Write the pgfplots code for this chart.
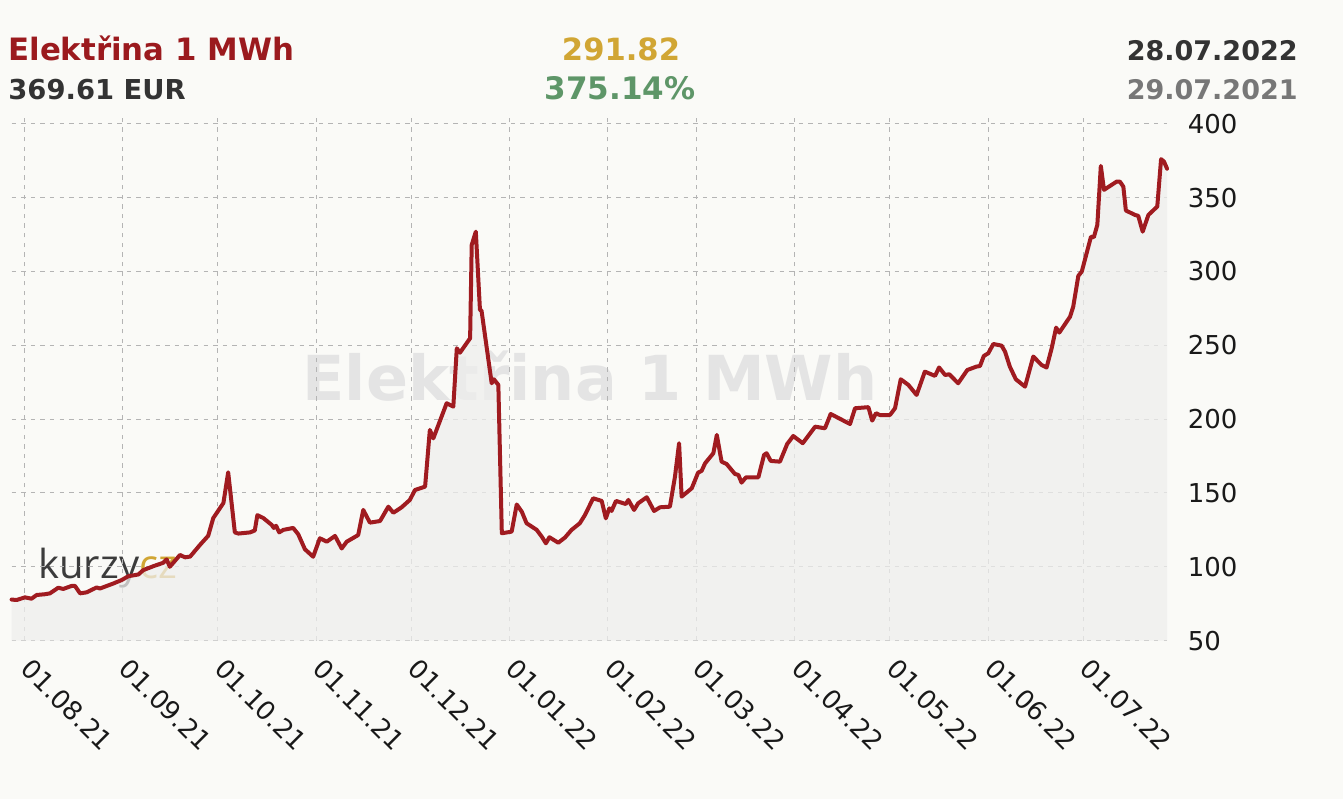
\documentclass[border=0pt]{standalone}
\usepackage{pgfplots}
\pgfplotsset{compat=1.18}
\usepackage{pgfplotstable}
\usepackage{fontspec}
\setmainfont{DejaVu Sans}
\newfontfamily\logofont{Open Sans}
\definecolor{bg}{RGB}{250,250,247}
\definecolor{linered}{RGB}{160,27,32}
\definecolor{titlered}{RGB}{155,26,30}
\definecolor{goldc}{RGB}{209,166,52}
\definecolor{pctgreen}{RGB}{94,150,104}
\definecolor{dark}{RGB}{51,51,51}
\definecolor{datgray}{RGB}{119,119,119}
\definecolor{areafill}{RGB}{238,238,237}
\definecolor{wm}{RGB}{228,228,228}
\definecolor{gridc}{RGB}{180,180,180}
\definecolor{ticktext}{RGB}{25,25,25}
\definecolor{logogray}{RGB}{60,60,60}

\pgfplotstableread{
day value
-4.0 77.8
-2.4 77.5
0.2 79.3
2.3 78.4
3.9 80.9
6.5 81.4
8.1 82.0
10.7 85.8
12.3 85.0
14.9 87.0
16.0 87.0
17.6 82.0
19.7 82.7
22.8 86.0
23.9 85.3
28.1 88.7
30.7 91.0
32.8 93.6
36.0 94.8
37.5 97.7
40.7 100.4
43.8 102.7
44.9 105.0
45.9 100.0
49.1 108.0
50.7 106.4
52.3 106.9
55.4 114.8
58.0 121.0
59.6 133.0
62.8 143.2
64.3 164.0
66.4 123.3
67.5 122.5
71.2 123.3
72.7 124.6
73.5 135.0
75.4 133.0
78.0 128.4
78.7 126.3
79.4 127.8
80.4 123.3
81.7 125.0
84.8 126.3
86.4 122.0
88.5 111.9
91.1 106.8
93.2 119.3
95.4 117.0
98.0 120.9
100.1 112.4
101.7 117.0
105.3 121.5
106.9 138.5
109.0 129.9
112.2 131.0
114.8 140.7
116.4 136.6
119.0 140.3
121.6 145.3
123.2 152.0
126.4 154.3
127.9 192.7
129.0 187.0
133.2 210.8
135.3 208.5
136.4 248.0
137.4 245.0
140.6 254.8
141.1 318.0
142.4 327.0
143.7 274.0
144.2 273.5
147.4 224.3
148.1 227.0
149.5 223.2
150.6 122.7
153.7 123.8
155.3 142.2
156.9 137.3
158.4 129.5
161.6 125.0
163.2 120.4
164.5 115.9
165.6 120.0
168.4 116.3
170.5 119.8
172.6 125.0
175.2 129.5
176.8 135.0
179.4 146.4
182.1 144.6
183.4 132.8
184.5 139.6
185.2 137.8
186.6 144.6
189.7 142.5
190.5 145.3
192.3 138.5
193.6 143.0
196.3 147.1
198.6 137.8
200.5 140.3
203.6 140.7
205.2 161.0
206.5 183.7
207.3 147.5
210.5 153.2
212.5 163.8
213.6 164.9
214.7 170.1
217.3 176.9
218.4 189.3
219.9 171.2
221.5 169.6
224.1 162.9
225.2 162.2
226.2 157.0
227.6 160.6
231.5 160.6
233.3 175.8
234.1 176.9
235.4 171.7
238.3 171.2
240.6 183.2
242.5 188.6
245.5 183.7
249.4 194.9
252.5 193.8
254.3 203.5
260.4 196.7
262.0 207.4
266.2 208.1
267.4 199.0
268.6 204.0
269.8 202.8
273.0 202.8
274.6 207.4
276.4 227.0
278.8 223.2
281.4 216.4
284.0 232.2
287.2 229.3
288.5 235.0
290.4 229.9
291.7 230.4
294.5 224.3
297.4 233.3
300.3 235.6
301.4 236.0
302.6 242.8
304.0 244.6
305.6 250.9
308.2 249.8
309.3 245.7
310.8 235.6
312.7 227.0
315.6 222.0
318.2 242.4
320.8 236.7
322.4 235.0
324.0 248.0
325.4 262.0
326.4 258.6
329.8 269.4
330.8 276.2
332.4 297.0
333.5 300.0
336.4 323.6
337.3 323.2
338.4 331.6
339.5 371.5
340.5 355.3
344.5 360.9
345.5 360.9
346.6 357.5
347.4 341.3
350.3 338.3
351.3 337.7
352.7 327.0
354.5 338.3
357.3 344.0
358.5 376.1
359.4 374.5
360.4 369.6
}\eldata

\begin{document}
\begin{tikzpicture}
\fill[bg] (0pt,0pt) rectangle (671.5pt,399.5pt);
\useasboundingbox (0pt,0pt) rectangle (671.5pt,399.5pt);
% watermark
\node[anchor=base, text=wm, font=\bfseries\fontsize{31}{31}\selectfont, inner sep=0pt] at (295pt,199.5pt) {Elektřina 1 MWh};
% logo
\node[anchor=base west, inner sep=0pt, font=\logofont\fontsize{20}{20}\selectfont, text=logogray] at (19pt,110.5pt) {kurzy\textcolor{goldc}{cz}};
\begin{axis}[
  at={(5.8pt,79.2pt)}, anchor=south west,
  scale only axis, width=577.9pt, height=262.8pt,
  xmin=-4, xmax=360.5, ymin=50, ymax=406,
  axis line style={draw=none},
  major tick length=0pt,
  tick style={draw=none},
  xmajorgrids, ymajorgrids,
  grid style={dash pattern=on 2.2pt off 2.6pt, gridc, line width=0.5pt},
  xtick={0,31,61,92,122,153,184,212,243,273,304,334},
  xticklabels={01.08.21,01.09.21,01.10.21,01.11.21,01.12.21,01.01.22,01.02.22,01.03.22,01.04.22,01.05.22,01.06.22,01.07.22},
  xticklabel style={xshift=4.5pt, yshift=-8pt, rotate=-45, anchor=north west, inner sep=0pt, font=\fontsize{13}{13}\selectfont, text=ticktext},
  ytick={50,100,150,200,250,300,350,400},
  yticklabels={50,100,150,200,250,300,350,400},
  yticklabel pos=right,
  yticklabel style={anchor=west, inner sep=0pt, xshift=10pt, font=\fontsize{13}{13}\selectfont, text=ticktext},
  clip=false,
]
\addplot[fill=areafill, draw=none, fill opacity=0.75] table[x=day,y=value]{\eldata} \closedcycle;
\addplot[linered, line width=2pt, line join=round, line cap=round] table[x=day,y=value]{\eldata};
\end{axis}
% header
\node[anchor=base west, inner sep=0pt, text=titlered, font=\bfseries\fontsize{15.4}{18}\selectfont] at (4pt,369pt) {Elektřina 1 MWh};
\node[anchor=base west, inner sep=0pt, text=dark, font=\bfseries\fontsize{13.7}{16}\selectfont] at (4pt,349.5pt) {369.61 EUR};
\node[anchor=base, inner sep=0pt, text=goldc, font=\bfseries\fontsize{15.3}{18}\selectfont] at (310.5pt,369pt) {291.82};
\node[anchor=base, inner sep=0pt, text=pctgreen, font=\bfseries\fontsize{15.5}{18}\selectfont] at (310pt,349.5pt) {375.14\%};
\node[anchor=base east, inner sep=0pt, text=dark, font=\bfseries\fontsize{13.5}{16}\selectfont] at (649pt,369pt) {28.07.2022};
\node[anchor=base east, inner sep=0pt, text=datgray, font=\bfseries\fontsize{13.5}{16}\selectfont] at (649pt,349.5pt) {29.07.2021};
\end{tikzpicture}
\end{document}
